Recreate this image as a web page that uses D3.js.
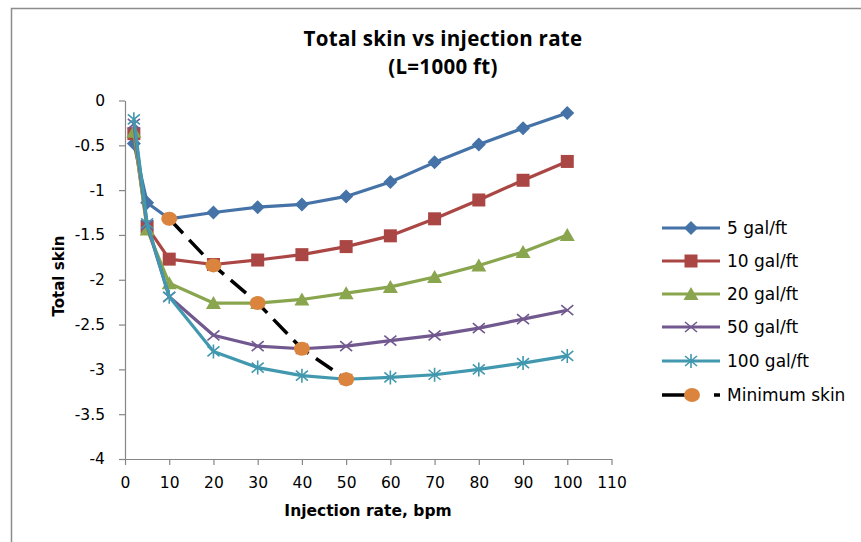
<!DOCTYPE html>
<html><head><meta charset="utf-8">
<script src="https://cdn.jsdelivr.net/npm/d3@7"></script>
<style>
body{margin:0;background:#fff;}
text{font-family:"DejaVu Sans",sans-serif;}
text.ttl{font-family:"Open Sans",sans-serif;}
</style></head>
<body>
<svg id="c" width="861" height="542"></svg>
<script>
const rates = [2,5,10,20,30,40,50,60,70,80,90,100];
const s5   = [-0.48,-1.14,-1.32,-1.25,-1.19,-1.16,-1.07,-0.91,-0.69,-0.49,-0.31,-0.14];
const s10  = [-0.37,-1.41,-1.77,-1.83,-1.78,-1.72,-1.63,-1.51,-1.32,-1.11,-0.89,-0.68];
const s20  = [-0.35,-1.44,-2.04,-2.26,-2.26,-2.22,-2.15,-2.08,-1.97,-1.84,-1.69,-1.50];
const s50  = [-0.26,-1.39,-2.19,-2.62,-2.74,-2.77,-2.74,-2.68,-2.62,-2.54,-2.44,-2.34];
const s100 = [-0.21,-1.37,-2.19,-2.80,-2.98,-3.07,-3.11,-3.09,-3.06,-3.00,-2.93,-2.85];
const minRates = [10,20,30,40,50];
const minSkin  = [-1.32,-1.84,-2.26,-2.77,-3.11];
const seriesNames = ["5 gal/ft","10 gal/ft","20 gal/ft","50 gal/ft","100 gal/ft","Minimum skin"];
const xTicks = [0,10,20,30,40,50,60,70,80,90,100,110];
const yTicks = [0,-0.5,-1,-1.5,-2,-2.5,-3,-3.5,-4];
const colors = ["#4572A7","#AA4643","#89A54E","#71588F","#4198AF","#DB843D"];
const markers = ["diamond","square","triangle","x","star","circle"];

const svg = d3.select("#c");
// chart frame
svg.append("path").attr("d","M11.5,542 V8.5 H861").attr("fill","none").attr("stroke","#8c8c8c").attr("stroke-width",1.5);

const x = d3.scaleLinear().domain([0,110]).range([125,611.5]);
const y = d3.scaleLinear().domain([-4,0]).range([459,100.5]);

// axes
const gx = svg.append("g").attr("transform","translate(0,459)")
  .call(d3.axisBottom(x).tickValues(xTicks).tickSizeInner(6).tickSizeOuter(0).tickFormat(d3.format("d")));
const gy = svg.append("g").attr("transform","translate(125,0)")
  .call(d3.axisLeft(y).tickValues(yTicks).tickSizeInner(6).tickSizeOuter(0).tickPadding(14).tickFormat(d=>String(d)));
[gx,gy].forEach(g=>{
  g.selectAll("path,line").attr("stroke","#868686").attr("stroke-width",1.2);
  g.selectAll("text").attr("fill","#000").attr("font-size",15.5).style("font-family","'DejaVu Sans',sans-serif");
});
gx.selectAll("text").attr("y",29).attr("dy",0);

// titles
svg.append("text").attr("class","ttl").attr("x",443).attr("y",45.5).attr("text-anchor","middle").attr("font-size",20.5).attr("letter-spacing",0.3).attr("font-weight","bold").text("Total skin vs injection rate");
svg.append("text").attr("class","ttl").attr("x",443).attr("y",73.5).attr("text-anchor","middle").attr("font-size",20.5).attr("letter-spacing",0.3).attr("font-weight","bold").text("(L=1000 ft)");
svg.append("text").attr("x",368).attr("y",516).attr("text-anchor","middle").attr("font-size",15.5).attr("font-weight","bold").text("Injection rate, bpm");
svg.append("text").attr("transform","translate(64,276) rotate(-90)").attr("text-anchor","middle").attr("font-size",15).attr("font-weight","bold").text("Total skin");

function drawMarker(g, type, cx, cy, color){
  if(type==="diamond"){
    g.append("path").attr("d",`M${cx},${cy-7}L${cx+7},${cy}L${cx},${cy+7}L${cx-7},${cy}Z`).attr("fill",color);
  } else if(type==="square"){
    g.append("rect").attr("x",cx-6.5).attr("y",cy-6.5).attr("width",13).attr("height",13).attr("fill",color);
  } else if(type==="triangle"){
    g.append("path").attr("d",`M${cx},${cy-7}L${cx+7.5},${cy+6}L${cx-7.5},${cy+6}Z`).attr("fill",color);
  } else if(type==="x"){
    g.append("path").attr("d",`M${cx-6},${cy-5}L${cx+6},${cy+5}M${cx-6},${cy+5}L${cx+6},${cy-5}`).attr("stroke",color).attr("stroke-width",1.6);
  } else if(type==="star"){
    g.append("path").attr("d",`M${cx-6},${cy-5}L${cx+6},${cy+5}M${cx-6},${cy+5}L${cx+6},${cy-5}M${cx},${cy-7}V${cy+7}`).attr("stroke",color).attr("stroke-width",1.6);
  } else if(type==="circle"){
    g.append("ellipse").attr("cx",cx).attr("cy",cy).attr("rx",8).attr("ry",7).attr("fill",color);
  }
}

const allSeries = [s5,s10,s20,s50,s100];
const line = d3.line().x(d=>x(d[0])).y(d=>y(d[1]));
const plot = svg.append("g");
allSeries.forEach((s,i)=>{
  const pts = rates.map((r,j)=>[r,s[j]]);
  const g = plot.append("g");
  g.append("path").datum(pts).attr("d",line).attr("fill","none").attr("stroke",colors[i]).attr("stroke-width",3.2).attr("stroke-linejoin","round");
  pts.forEach(p=>drawMarker(g,markers[i],x(p[0]),y(p[1]),colors[i]));
});
// minimum skin
{
  const pts = minRates.map((r,j)=>[r,minSkin[j]]);
  const g = plot.append("g");
  g.append("path").datum(pts).attr("d",line).attr("fill","none").attr("stroke","#000").attr("stroke-width",3.5).attr("stroke-dasharray","20,9");
  pts.forEach(p=>drawMarker(g,"circle",x(p[0]),y(p[1]),colors[5]));
}

// legend
const leg = svg.append("g");
const legY = [228,261,294,327,361,395];
seriesNames.forEach((n,i)=>{
  const ly = legY[i];
  if(i<5){
    leg.append("line").attr("x1",662).attr("x2",720).attr("y1",ly).attr("y2",ly).attr("stroke",colors[i]).attr("stroke-width",3.2);
    drawMarker(leg,markers[i],691,ly,colors[i]);
  } else {
    leg.append("line").attr("x1",662).attr("x2",693).attr("y1",ly).attr("y2",ly).attr("stroke","#000").attr("stroke-width",3.5);
    leg.append("line").attr("x1",714).attr("x2",720).attr("y1",ly).attr("y2",ly).attr("stroke","#000").attr("stroke-width",3.5);
    drawMarker(leg,"circle",692,ly,colors[5]);
  }
  leg.append("text").attr("x",727).attr("y",ly).attr("dy","0.36em").attr("font-size",17).text(n);
});
</script>
</body></html>
